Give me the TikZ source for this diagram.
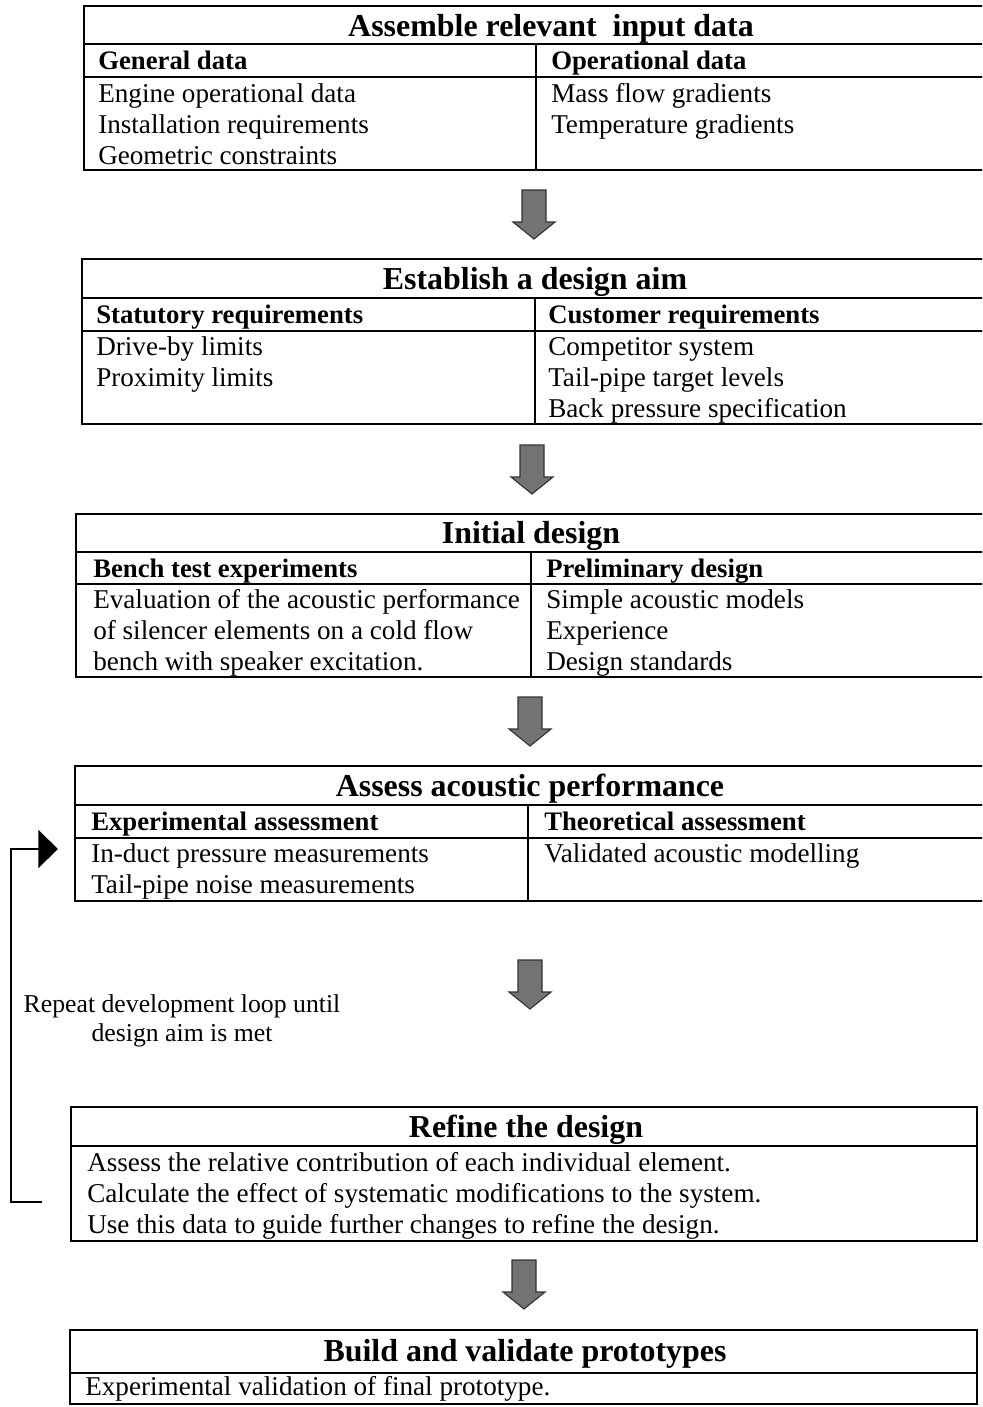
\documentclass[tikz,border=0pt]{standalone}
\usepackage{fontspec}
\setmainfont{Liberation Serif}
\usetikzlibrary{arrows.meta}

\begin{document}
\begin{tikzpicture}[
x=0.025cm, y=-0.025cm,
frame/.style={line width=0.9pt},
title/.style={font=\fontsize{22.7}{26}\selectfont\bfseries, anchor=base, inner sep=0pt},
head/.style={font=\fontsize{19}{22}\selectfont\bfseries, anchor=base west, inner sep=0pt},
cell/.style={font=\fontsize{19.3}{22}\selectfont, align=left, anchor=base west, inner sep=0pt},
blockarrow/.style={fill=black!55, draw=black!80, line width=0.8pt},
looparrow/.style={-{Triangle[length=14pt,width=27pt]}, line width=1.4pt}]

\clip (0,0) rectangle (982,1407);

% assemble input data (cells placed at their last baseline)
\draw[frame] (84,6) rectangle (1018,170);
\draw[frame] (84,44) -- (1018,44) (84,77) -- (1018,77) (536,44) -- (536,170);
\node[title] (t1) at (551,36) {Assemble relevant\ \ input data};
\node[head] (h1a) at (98,69) {General data};
\node[head] (h1b) at (551,69) {Operational data};
\node[cell] (c1a) at (98,164) {Engine operational data\\Installation requirements\\Geometric constraints};
\node[cell] (c1b) at (551,133) {Mass flow gradients\\Temperature gradients};

% design aim
\draw[frame] (82,259) rectangle (990,424);
\draw[frame] (82,298) -- (990,298) (82,331) -- (990,331) (535,298) -- (535,424);
\node[title] (t2) at (535,289) {Establish a design aim};
\node[head] (h2a) at (96,323) {Statutory requirements};
\node[head] (h2b) at (548,323) {Customer requirements};
\node[cell] (c2a) at (96,386) {Drive-by limits\\Proximity limits};
\node[cell] (c2b) at (548,417) {Competitor system\\Tail-pipe target levels\\Back pressure specification};

% initial design
\draw[frame] (76,514) rectangle (990,677);
\draw[frame] (76,552) -- (990,552) (76,584) -- (990,584) (531,552) -- (531,677);
\node[title] (t3) at (531,543) {Initial design};
\node[head] (h3a) at (93,577) {Bench test experiments};
\node[head] (h3b) at (546,577) {Preliminary design};
\node[cell] (c3a) at (93,670) {Evaluation of the acoustic performance\\of silencer elements on a cold flow\\bench with speaker excitation.};
\node[cell] (c3b) at (546,670) {Simple acoustic models\\Experience\\Design standards};

% assess performance
\draw[frame] (75,766) rectangle (990,901);
\draw[frame] (75,805) -- (990,805) (75,838) -- (990,838) (528,805) -- (528,901);
\node[title] (t4) at (530,796) {Assess acoustic performance};
\node[head] (h4a) at (91,830) {Experimental assessment};
\node[head] (h4b) at (544,830) {Theoretical assessment};
\node[cell] (c4a) at (91,893) {In-duct pressure measurements\\Tail-pipe noise measurements};
\node[cell] (c4b) at (544,862) {Validated acoustic modelling};

% refine
\draw[frame] (71,1107) rectangle (977,1241);
\draw[frame] (71,1146) -- (977,1146);
\node[title] (t5) at (526,1137) {Refine the design};
\node[cell] (c5) at (87,1233) {Assess the relative contribution of each individual element.\\Calculate the effect of systematic modifications to the system.\\Use this data to guide further changes to refine the design.};

% prototypes
\draw[frame] (70,1330) rectangle (977,1404);
\draw[frame] (70,1373) -- (977,1373);
\node[title] (t6) at (525,1361) {Build and validate prototypes};
\node[cell] (c6) at (85,1395) {Experimental validation of final prototype.};

% block arrows
\foreach \ax/\ay in {534/190, 532/445, 530/697, 530/960, 524/1260}
  \draw[blockarrow] (\ax-12,\ay) -- ++(24,0) -- ++(0,32) -- ++(9,0) -- (\ax,\ay+49) -- ++(-21,-17) -- ++(9,0) -- cycle;

% loop back
\node[cell, anchor=base, align=center, font=\fontsize{18.3}{20.6}\selectfont] (rep) at (182,1041) {Repeat development loop until\\design aim is met};
\coordinate (loopin) at (42,1202);
\coordinate (loopout) at (58,849);
\draw[looparrow] (loopin) -- (11,1202) |- (loopout);

\end{tikzpicture}
\end{document}
